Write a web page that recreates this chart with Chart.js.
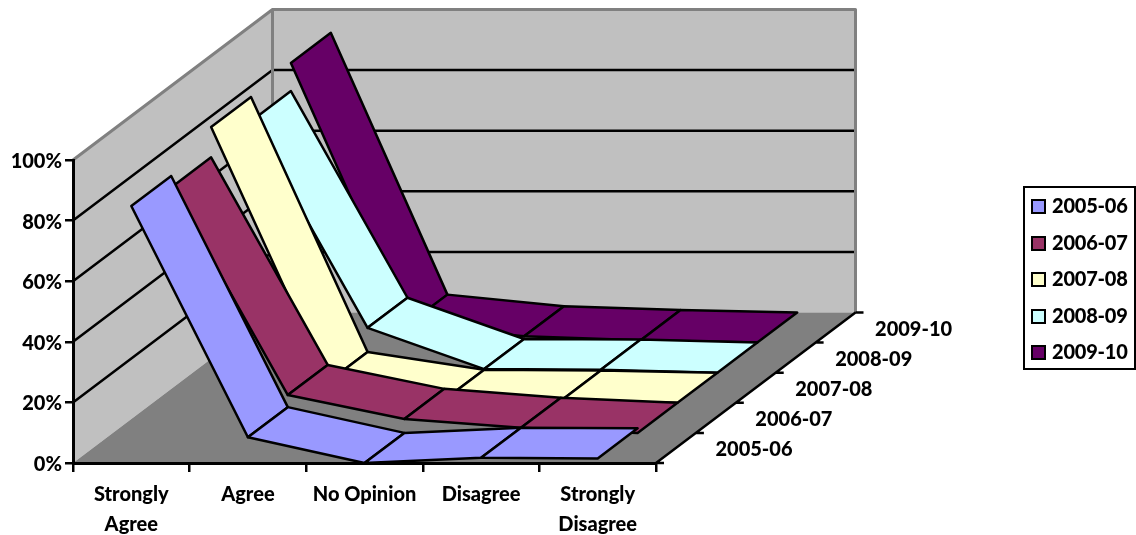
<!DOCTYPE html>
<html>
<head>
<meta charset="utf-8">
<title>Survey responses by year</title>
<script src="https://cdn.jsdelivr.net/npm/chart.js@4"></script>
<style>
    html, body { margin: 0; padding: 0; background: #fff; }
    #wrap { position: relative; width: 1136px; height: 535px; overflow: hidden; }
    #legend {
        position: absolute; left: 1023px; top: 186px; width: 109px; height: 180px;
        border: 2.5px solid #000; font: 900 20px Lato, sans-serif; color: #000;
    }
    .row { position: absolute; left: 6px; height: 24px; line-height: 24px; white-space: nowrap; letter-spacing: -0.2px; }
    .swatch {
        display: inline-block; width: 11px; height: 11px; border: 2.5px solid #000;
        margin-right: 6px; vertical-align: -1px;
    }
</style>
</head>
<body>
<div id="wrap">
    <canvas id="chart" width="1136" height="535"></canvas>
    <div id="legend"></div>
</div>
<script>
// Chart data
const categories = [['Strongly', 'Agree'], 'Agree', 'No Opinion', 'Disagree', ['Strongly', 'Disagree']];
const seasons = ['2005-06', '2006-07', '2007-08', '2008-09', '2009-10'];
const values0506 = [84.8, 8.5, 0, 1.7, 1.5];
const values0607 = [81, 12.5, 4.6, 1.7, 0];
const values0708 = [91, 6.8, 1, 0.7, 0];
const values0809 = [83, 14.8, 1.2, 1, 0];
const values0910 = [92.3, 5.9, 2.1, 0.8, 0];
const yTicks = [0, 20, 40, 60, 80, 100];
const seriesColors = ['#9999ff', '#993366', '#ffffcc', '#ccffff', '#660066'];

// 3D look: how far one series steps back into the picture
const stepX = 39.9;
const stepY = -30.1;
const labelFont = '900 20px Lato, sans-serif';

function path(ctx, pts) {
    ctx.beginPath();
    pts.forEach((p, i) => i ? ctx.lineTo(p[0], p[1]) : ctx.moveTo(p[0], p[1]));
    ctx.closePath();
}

const wallsPlugin = {
    id: 'walls',
    beforeDraw(chart) {
        const { ctx, chartArea: a, scales } = chart;
        const dx = stepX * seasons.length;
        const dy = stepY * seasons.length;
        ctx.save();
        ctx.lineJoin = 'round';

        // left wall, back wall, floor
        ctx.fillStyle = '#c0c0c0';
        path(ctx, [[a.left, a.top], [a.left + dx, a.top + dy], [a.left + dx, a.bottom + dy], [a.left, a.bottom]]);
        ctx.fill();
        path(ctx, [[a.left + dx, a.top + dy], [a.right + dx, a.top + dy], [a.right + dx, a.bottom + dy], [a.left + dx, a.bottom + dy]]);
        ctx.fill();
        ctx.fillStyle = '#808080';
        path(ctx, [[a.left, a.bottom], [a.left + dx, a.bottom + dy], [a.right + dx, a.bottom + dy], [a.right, a.bottom]]);
        ctx.fill();

        // gridlines along both walls
        ctx.strokeStyle = '#000';
        ctx.lineWidth = 2.5;
        yTicks.slice(1, -1).forEach(v => {
            const y = scales.y.getPixelForValue(v);
            ctx.beginPath();
            ctx.moveTo(a.left, y);
            ctx.lineTo(a.left + dx, y + dy);
            ctx.lineTo(a.right + dx, y + dy);
            ctx.stroke();
        });

        // wall edges
        ctx.strokeStyle = '#808080';
        ctx.lineWidth = 3;
        ctx.beginPath();
        ctx.moveTo(a.left, a.top);
        ctx.lineTo(a.left + dx, a.top + dy);
        ctx.lineTo(a.right + dx, a.top + dy);
        ctx.lineTo(a.right + dx, a.bottom + dy);
        ctx.moveTo(a.left + dx, a.top + dy);
        ctx.lineTo(a.left + dx, a.bottom + dy);
        ctx.stroke();

        // depth axis on the right of the floor
        ctx.strokeStyle = '#000';
        ctx.lineWidth = 2.5;
        ctx.beginPath();
        ctx.moveTo(a.right, a.bottom);
        ctx.lineTo(a.right + dx, a.bottom + dy);
        for (let i = 0; i <= seasons.length; i++) {
            const x = a.right + stepX * i;
            const y = a.bottom + stepY * i;
            ctx.moveTo(x, y);
            ctx.lineTo(x + 8, y);
        }
        ctx.stroke();
        ctx.restore();
    },
    afterDatasetsDraw(chart) {
        const { ctx, chartArea: a } = chart;
        ctx.save();
        ctx.lineJoin = 'round';
        ctx.lineWidth = 2.5;
        ctx.strokeStyle = '#000';

        // ribbons, back series first so the front ones cover them
        for (let i = seasons.length - 1; i >= 0; i--) {
            const points = chart.getDatasetMeta(i).data;
            const ox = stepX * i;
            const oy = stepY * i;
            ctx.fillStyle = seriesColors[i];
            for (let j = 0; j < points.length - 1; j++) {
                const p = points[j];
                const q = points[j + 1];
                path(ctx, [
                    [p.x + ox, p.y + oy],
                    [q.x + ox, q.y + oy],
                    [q.x + ox + stepX, q.y + oy + stepY],
                    [p.x + ox + stepX, p.y + oy + stepY]
                ]);
                ctx.fill();
                ctx.stroke();
            }
        }

        // depth axis labels
        ctx.fillStyle = '#000';
        ctx.font = labelFont;
        ctx.textAlign = 'center';
        ctx.textBaseline = 'middle';
        seasons.forEach((s, i) => {
            ctx.fillText(s, a.right + 98 + stepX * i, a.bottom - 13 + stepY * i);
        });
        ctx.restore();
    }
};

const seriesValues = [values0506, values0607, values0708, values0809, values0910];

new Chart(document.getElementById('chart').getContext('2d'), {
    type: 'line',
    data: {
        labels: categories,
        datasets: seasons.map((s, i) => ({
            label: s,
            data: seriesValues[i],
            showLine: false,
            pointRadius: 0,
            borderColor: '#000',
            backgroundColor: seriesColors[i]
        }))
    },
    options: {
        responsive: false,
        animation: false,
        layout: { padding: { top: 160, right: 480, left: 0, bottom: 0 } },
        plugins: { legend: { display: false }, tooltip: { enabled: false } },
        scales: {
            x: {
                offset: true,
                grid: { offset: true, drawOnChartArea: false, color: '#000', lineWidth: 2.5, tickLength: 9 },
                border: { color: '#000', width: 3 },
                ticks: {
                    color: '#000',
                    font: { family: 'Lato, sans-serif', size: 20, weight: '900', lineHeight: 1.5 },
                    padding: 8,
                    maxRotation: 0,
                    autoSkip: false
                },
                afterFit(scale) { scale.height = 72; }
            },
            y: {
                min: 0,
                max: 100,
                grid: { drawOnChartArea: false, color: '#000', lineWidth: 2.5, tickLength: 8 },
                border: { color: '#000', width: 3 },
                ticks: {
                    stepSize: 20,
                    color: '#000',
                    font: { family: 'Lato, sans-serif', size: 20, weight: '900' },
                    padding: 3,
                    labelOffset: 1.5,
                    callback: v => v + '%'
                },
                afterFit(scale) { scale.width = 73; }
            }
        }
    },
    plugins: [wallsPlugin]
});

// Legend
const legend = document.getElementById('legend');
seasons.forEach((s, i) => {
    const row = document.createElement('div');
    row.className = 'row';
    row.style.top = (5 + i * 36.5) + 'px';
    const swatch = document.createElement('span');
    swatch.className = 'swatch';
    swatch.style.background = seriesColors[i];
    row.appendChild(swatch);
    row.appendChild(document.createTextNode(s));
    legend.appendChild(row);
});
</script>
</body>
</html>
